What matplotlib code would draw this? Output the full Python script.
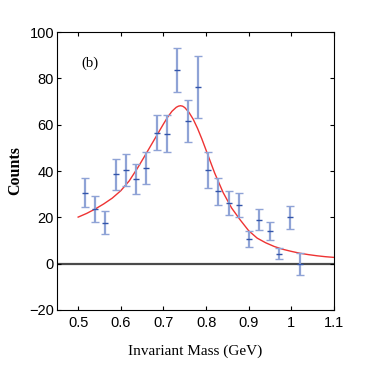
import numpy as np
import matplotlib
matplotlib.use("Agg")
from matplotlib import pyplot as plt

# data points
mass = [0.515, 0.540, 0.564, 0.588, 0.612, 0.636, 0.660, 0.684, 0.708, 0.732, 0.757,
        0.781, 0.804, 0.828, 0.853, 0.877, 0.900, 0.925, 0.949, 0.972, 0.997, 1.021]
counts = [30.7, 23.6, 17.7, 38.5, 40.5, 36.6, 41.4, 56.6, 56.2, 83.6, 61.5,
          76.3, 40.4, 31.3, 26.0, 25.3, 10.6, 19.0, 14.1, 4.3, 20.0, -0.1]
errors = [6.1, 5.5, 5.0, 6.9, 6.9, 6.5, 6.8, 7.7, 8.0, 9.5, 9.1,
          13.5, 7.7, 5.9, 5.2, 5.1, 3.5, 4.5, 3.8, 2.4, 4.9, 4.7]

# fit curve
fit_x = [0.50, 0.52, 0.54, 0.56, 0.58, 0.60, 0.62, 0.64, 0.66, 0.68, 0.70, 0.71, 0.72,
         0.73, 0.735, 0.74, 0.745, 0.75, 0.76, 0.77, 0.78, 0.79, 0.80, 0.82, 0.84, 0.86,
         0.88, 0.90, 0.92, 0.94, 0.96, 0.98, 1.00, 1.02, 1.04, 1.06, 1.08, 1.10]
fit_y = [20.1, 21.7, 23.6, 25.8, 28.3, 31.5, 35.8, 41.5, 47.7, 54.0, 60.3, 63.3, 65.8,
         67.5, 68.0, 68.2, 68.0, 67.4, 65.3, 62.3, 58.4, 53.9, 49.0, 39.2, 30.7, 24.0,
         18.9, 14.2, 11.0, 9.0, 7.4, 6.2, 5.3, 4.5, 3.9, 3.4, 3.0, 2.7]

plt.rcParams['font.family'] = 'Liberation Sans'

fig = plt.figure(figsize=(3.74, 3.73), dpi=100)
ax = fig.add_axes([0.152, 0.169, 0.741, 0.745])

ax.axhline(0, color='#4a4a4a', lw=1.6, zorder=1)
ax.plot(fit_x, fit_y, color='#ee3333', lw=1.0, zorder=2)

eb = ax.errorbar(mass, counts, yerr=errors, fmt='_', color='#3355aa', ms=4, mew=1.0,
                 ecolor='#8fa3d6', elinewidth=1.6, capsize=2.8, capthick=1.0, zorder=3)
for cap in eb[1]:
    cap.set_color('#3355aa')

ax.set_xlim(0.45, 1.1)
ax.set_ylim(-20, 100)
ax.set_xticks([0.5, 0.6, 0.7, 0.8, 0.9, 1.0, 1.1])
ax.set_xticklabels(['0.5', '0.6', '0.7', '0.8', '0.9', '1', '1.1'])
ax.set_yticks([-20, 0, 20, 40, 60, 80, 100])
ax.tick_params(direction='in', top=True, right=True, length=3, labelsize=10.5)
ax.tick_params(axis='y', pad=2)
ax.tick_params(axis='x', pad=4)

ax.text(0.508, 85, '(b)', family='Liberation Serif', fontsize=10.5)
ax.set_xlabel('Invariant Mass (GeV)', family='Liberation Serif', fontsize=11, labelpad=11)
ax.set_ylabel('Counts', family='Liberation Serif', fontsize=11.5, fontweight='bold', labelpad=4)

fig.savefig('out.png', dpi=100)
